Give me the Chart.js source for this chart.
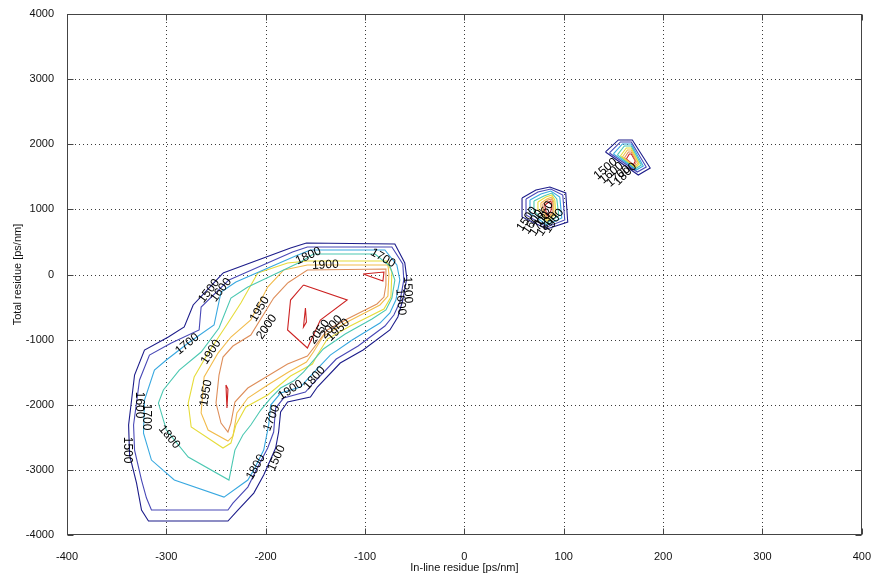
<!DOCTYPE html>
<html>
<head>
<meta charset="utf-8">
<script src="https://cdn.jsdelivr.net/npm/chart.js@4/dist/chart.umd.min.js"></script>
<style>
  html, body { margin: 0; padding: 0; background: #ffffff; }
  canvas { display: block; }
</style>
</head>
<body>
<canvas id="c" width="878" height="578" style="width:878px;height:578px"></canvas>
<script>
// Contour levels and their line colours
const levels = [1500, 1600, 1700, 1800, 1900, 1950, 2000, 2050];
const levelColors = ['#1c1c8a', '#4848b6', '#38a8e0', '#4cc8b2', '#e6dc3a', '#f2bc4c', '#de8e5a', '#cc2222'];

// Axis ticks
const xTickValues = [-400, -300, -200, -100, 0, 100, 200, 300, 400];
const yTickValues = [-4000, -3000, -2000, -1000, 0, 1000, 2000, 3000, 4000];

// Main lobe: one closed ring per level, [in-line, total] residue
const lobe1500 = [[-243,23],[-175,407],[-159,484],[-70,468],[-60,177],[-58,-54],[-62,-392],[-67,-653],[-75,-852],[-102,-1160],[-125,-1359],[-148,-1728],[-155,-1882],[-178,-1958],[-185,-2112],[-187,-2419],[-190,-2665],[-202,-3080],[-212,-3356],[-228,-3617],[-238,-3786],[-318,-3786],[-325,-3617],[-330,-3203],[-337,-2773],[-338,-2311],[-332,-1544],[-322,-1160],[-298,-960],[-282,-806],[-273,-468],[-243,23]];
const lobe1600 = [[-237,-84],[-173,346],[-158,422],[-73,422],[-62,161],[-61,-84],[-65,-422],[-71,-622],[-80,-791],[-107,-1098],[-129,-1298],[-152,-1666],[-160,-1805],[-182,-1897],[-190,-2051],[-192,-2419],[-198,-2665],[-208,-2957],[-218,-3264],[-233,-3510],[-238,-3617],[-315,-3617],[-320,-3433],[-325,-3156],[-332,-2696],[-333,-2311],[-327,-1620],[-317,-1237],[-295,-1052],[-267,-852],[-265,-499],[-237,-84]];
const lobe1700 = [[-230,-115],[-170,284],[-155,376],[-80,376],[-68,146],[-65,-84],[-69,-392],[-75,-591],[-85,-745],[-113,-1006],[-135,-1237],[-157,-1590],[-165,-1728],[-185,-1820],[-195,-2005],[-197,-2311],[-202,-2696],[-212,-3003],[-218,-3156],[-242,-3418],[-292,-3156],[-315,-2849],[-323,-2435],[-322,-1928],[-312,-1467],[-300,-1313],[-278,-1052],[-252,-776],[-245,-269],[-230,-115]];
const lobe1800 = [[-218,-192],[-165,192],[-152,315],[-90,315],[-75,131],[-70,-84],[-73,-361],[-79,-545],[-93,-684],[-120,-914],[-142,-1144],[-162,-1498],[-172,-1636],[-185,-1743],[-195,-1897],[-205,-2081],[-215,-2311],[-223,-2465],[-231,-2696],[-237,-3156],[-278,-2803],[-300,-2388],[-308,-1974],[-303,-1774],[-287,-1467],[-265,-1190],[-247,-822],[-235,-361],[-218,-192]];
const lobe1900 = [[-208,23],[-178,177],[-158,207],[-78,207],[-73,38],[-74,-346],[-81,-530],[-115,-791],[-138,-991],[-148,-1237],[-153,-1375],[-175,-1559],[-198,-1851],[-220,-2035],[-230,-2311],[-235,-2588],[-243,-2665],[-275,-2342],[-278,-1974],[-272,-1574],[-258,-1206],[-238,-745],[-225,-438],[-208,23]];
const lobe1950 = [[-182,69],[-158,146],[-77,146],[-76,8],[-77,-330],[-85,-468],[-118,-730],[-142,-945],[-152,-1190],[-159,-1344],[-177,-1498],[-198,-1697],[-218,-1897],[-229,-2127],[-233,-2481],[-238,-2558],[-258,-2388],[-265,-2127],[-262,-1574],[-248,-1206],[-235,-960],[-215,-699],[-198,-192],[-182,69]];
const lobe2000 = [[-178,-131],[-158,69],[-79,84],[-79,-161],[-81,-346],[-88,-453],[-118,-684],[-138,-852],[-148,-1052],[-158,-1252],[-178,-1375],[-198,-1559],[-218,-1743],[-231,-1958],[-235,-2281],[-238,-2419],[-245,-2281],[-250,-1974],[-247,-1544],[-243,-1267],[-233,-1098],[-215,-929],[-192,-361],[-178,-131]];
const lobe2050 = [[-162,-161],[-118,-392],[-145,-699],[-158,-1129],[-178,-852],[-175,-392],[-162,-161]];
const lobe2050b = [[-160,-515],[-162,-806],[-159,-730],[-160,-515]];
const lobe2050c = [[-102,8],[-81,38],[-82,-100],[-102,8]];
const lobe2050d = [[-240,-1697],[-239,-2051],[-238,-1759],[-240,-1697]];

// Small peak near (80, 1000)
const spotA1500 = [[58,1175],[72,1298],[86,1344],[102,1252],[104,806],[83,700],[58,884],[58,1175]];
const spotA1600 = [[62,1160],[74,1267],[87,1313],[99,1221],[101,837],[83,730],[62,914],[62,1160]];
const spotA1700 = [[66,1144],[77,1236],[87,1282],[96,1190],[98,868],[83,760],[66,945],[66,1144]];
const spotA1800 = [[70,1129],[80,1206],[88,1251],[93,1160],[95,899],[83,790],[70,976],[70,1129]];
const spotA1900 = [[74,1114],[82,1190],[88,1221],[91,1144],[92,929],[83,821],[74,1006],[74,1114]];
const spotA1950 = [[77,1098],[83,1160],[88,1190],[90,1114],[90,945],[83,852],[77,1037],[77,1098]];
const spotA2000 = [[79,1083],[84,1144],[88,1160],[89,1098],[89,960],[83,868],[79,1052],[79,1083]];
const spotA2050 = [[81,1068],[85,1114],[87,1129],[88,1068],[87,975],[83,899],[81,1052],[81,1068]];

// Small peak near (160, 1700)
const spotB1500 = [[142,1882],[155,2066],[169,2066],[187,1636],[175,1528],[142,1882]];
const spotB1600 = [[146,1866],[157,2035],[168,2035],[183,1651],[174,1574],[146,1866]];
const spotB1700 = [[150,1851],[159,2004],[168,2004],[180,1667],[173,1605],[150,1851]];
const spotB1800 = [[154,1836],[161,1974],[168,1974],[178,1682],[172,1620],[154,1836]];
const spotB1900 = [[157,1820],[163,1943],[168,1943],[176,1697],[172,1636],[157,1820]];
const spotB1950 = [[159,1805],[164,1912],[168,1912],[175,1713],[171,1651],[159,1805]];
const spotB2000 = [[161,1789],[165,1882],[168,1882],[173,1728],[171,1667],[161,1789]];
const spotB2050 = [[163,1774],[166,1851],[168,1851],[172,1743],[170,1682],[163,1774]];

// Rings grouped by level
const ringsByLevel = [
  [lobe1500, spotA1500, spotB1500],
  [lobe1600, spotA1600, spotB1600],
  [lobe1700, spotA1700, spotB1700],
  [lobe1800, spotA1800, spotB1800],
  [lobe1900, spotA1900, spotB1900],
  [lobe1950, spotA1950, spotB1950],
  [lobe2000, spotA2000, spotB2000],
  [lobe2050, lobe2050b, lobe2050c, lobe2050d, spotA2050, spotB2050]
];

// Inline contour labels: [x, y, text, rotation in degrees]
const contourLabels = [
  [-257, -253, '1500', -52], [-245, -238, '1600', -52],
  [-279, -1068, '1700', -39], [-255, -1190, '1900', -57],
  [-206, -530, '1950', -59], [-199, -806, '2000', -56],
  [-157, 284, '1800', -24], [-140, 146, '1900', -3],
  [-82, 253, '1700', 30], [-57, -238, '1500', 88], [-64, -422, '1600', 85],
  [-146, -883, '2050', -54], [-134, -806, '2000', -49], [-127, -852, '1950', -43],
  [-175, -1774, '1900', -32], [-151, -1590, '1800', -48],
  [-194, -2204, '1700', -68], [-210, -2957, '1800', -61], [-189, -2819, '1500', -66],
  [-297, -2496, '1800', 50], [-327, -2005, '1600', 90], [-320, -2189, '1700', 90],
  [-339, -2696, '1500', 90], [-260, -1820, '1950', -80],
  [63, 852, '1500', -55], [69, 806, '1600', -55], [76, 776, '1700', -55],
  [83, 776, '1800', -55], [90, 821, '1900', -55], [80, 930, '1950', -60],
  [142, 1620, '1500', -40], [148, 1560, '1600', -40], [155, 1510, '1700', -40], [162, 1540, '1800', -45]
];

const datasets = [];
ringsByLevel.forEach((rings, i) => {
  rings.forEach(ring => {
    datasets.push({
      label: String(levels[i]),
      data: ring.map(([x, y]) => ({ x, y })),
      showLine: true,
      borderColor: levelColors[i],
      borderWidth: 1.1,
      pointRadius: 0,
      tension: 0,
      fill: false
    });
  });
});

const FONT = '"Liberation Sans", Arial, Helvetica, sans-serif';

// Dotted grid, boxed frame with inward ticks, and contour labels
const axesBox = {
  id: 'axesBox',
  beforeDatasetsDraw(chart) {
    const { ctx, chartArea: a, scales: { x, y } } = chart;
    ctx.save();
    ctx.strokeStyle = '#3a3a3a';
    ctx.lineWidth = 1;
    ctx.setLineDash([1, 3]);
    xTickValues.forEach(v => {
      if (v === x.min || v === x.max) return;
      const p = Math.round(x.getPixelForValue(v)) + 0.5;
      ctx.beginPath(); ctx.moveTo(p, a.top); ctx.lineTo(p, a.bottom); ctx.stroke();
    });
    yTickValues.forEach(v => {
      if (v === y.min || v === y.max) return;
      const p = Math.round(y.getPixelForValue(v)) + 0.5;
      ctx.beginPath(); ctx.moveTo(a.left, p); ctx.lineTo(a.right, p); ctx.stroke();
    });
    ctx.restore();
  },
  afterDatasetsDraw(chart) {
    const { ctx, chartArea: a, scales: { x, y } } = chart;
    ctx.save();
    ctx.strokeStyle = '#444444';
    ctx.lineWidth = 1;
    ctx.setLineDash([]);
    const L = Math.round(a.left) + 0.5, R = Math.round(a.right) - 0.5;
    const T = Math.round(a.top) + 0.5, B = Math.round(a.bottom) - 0.5;
    ctx.strokeRect(L, T, R - L, B - T);
    const tl = 6;
    ctx.beginPath();
    xTickValues.forEach(v => {
      const p = Math.round(x.getPixelForValue(v)) + 0.5;
      ctx.moveTo(p, B); ctx.lineTo(p, B - tl);
      ctx.moveTo(p, T); ctx.lineTo(p, T + tl);
    });
    yTickValues.forEach(v => {
      const p = Math.round(y.getPixelForValue(v)) + 0.5;
      ctx.moveTo(L, p); ctx.lineTo(L + tl, p);
      ctx.moveTo(R, p); ctx.lineTo(R - tl, p);
    });
    ctx.stroke();

    ctx.fillStyle = '#000000';
    ctx.font = '12px ' + FONT;
    ctx.textAlign = 'center';
    ctx.textBaseline = 'middle';
    contourLabels.forEach(([vx, vy, text, deg]) => {
      ctx.save();
      ctx.translate(x.getPixelForValue(vx), y.getPixelForValue(vy));
      ctx.rotate(deg * Math.PI / 180);
      ctx.fillText(text, 0, 0);
      ctx.restore();
    });
    ctx.restore();
  }
};

new Chart(document.getElementById('c'), {
  type: 'scatter',
  data: { datasets },
  plugins: [axesBox],
  options: {
    responsive: false,
    animation: false,
    devicePixelRatio: 1,
    layout: { padding: { top: 14, right: 14, left: 0, bottom: 0 } },
    plugins: { legend: { display: false }, tooltip: { enabled: false } },
    elements: { line: { borderJoinStyle: 'miter' } },
    scales: {
      x: {
        type: 'linear',
        min: -400, max: 400,
        afterBuildTicks: s => { s.ticks = xTickValues.map(v => ({ value: v })); },
        afterFit: s => { s.height = 43; },
        grid: { display: false },
        border: { display: false },
        ticks: { color: '#111', font: { family: FONT, size: 11 }, padding: 7, maxRotation: 0, autoSkip: false, callback: v => String(v) },
        title: { display: true, text: 'In-line residue [ps/nm]', color: '#111', font: { family: FONT, size: 11 }, padding: { top: 0, bottom: 3 } }
      },
      y: {
        type: 'linear',
        min: -4000, max: 4000,
        afterBuildTicks: s => { s.ticks = yTickValues.map(v => ({ value: v })); },
        afterFit: s => { s.width = 67; },
        grid: { display: false },
        border: { display: false },
        ticks: { color: '#111', font: { family: FONT, size: 11 }, padding: 5, autoSkip: false, callback: v => String(v) },
        title: { display: true, text: 'Total residue [ps/nm]', color: '#111', font: { family: FONT, size: 11 }, padding: { top: 11, bottom: 0 } }
      }
    }
  }
});
</script>
</body>
</html>
